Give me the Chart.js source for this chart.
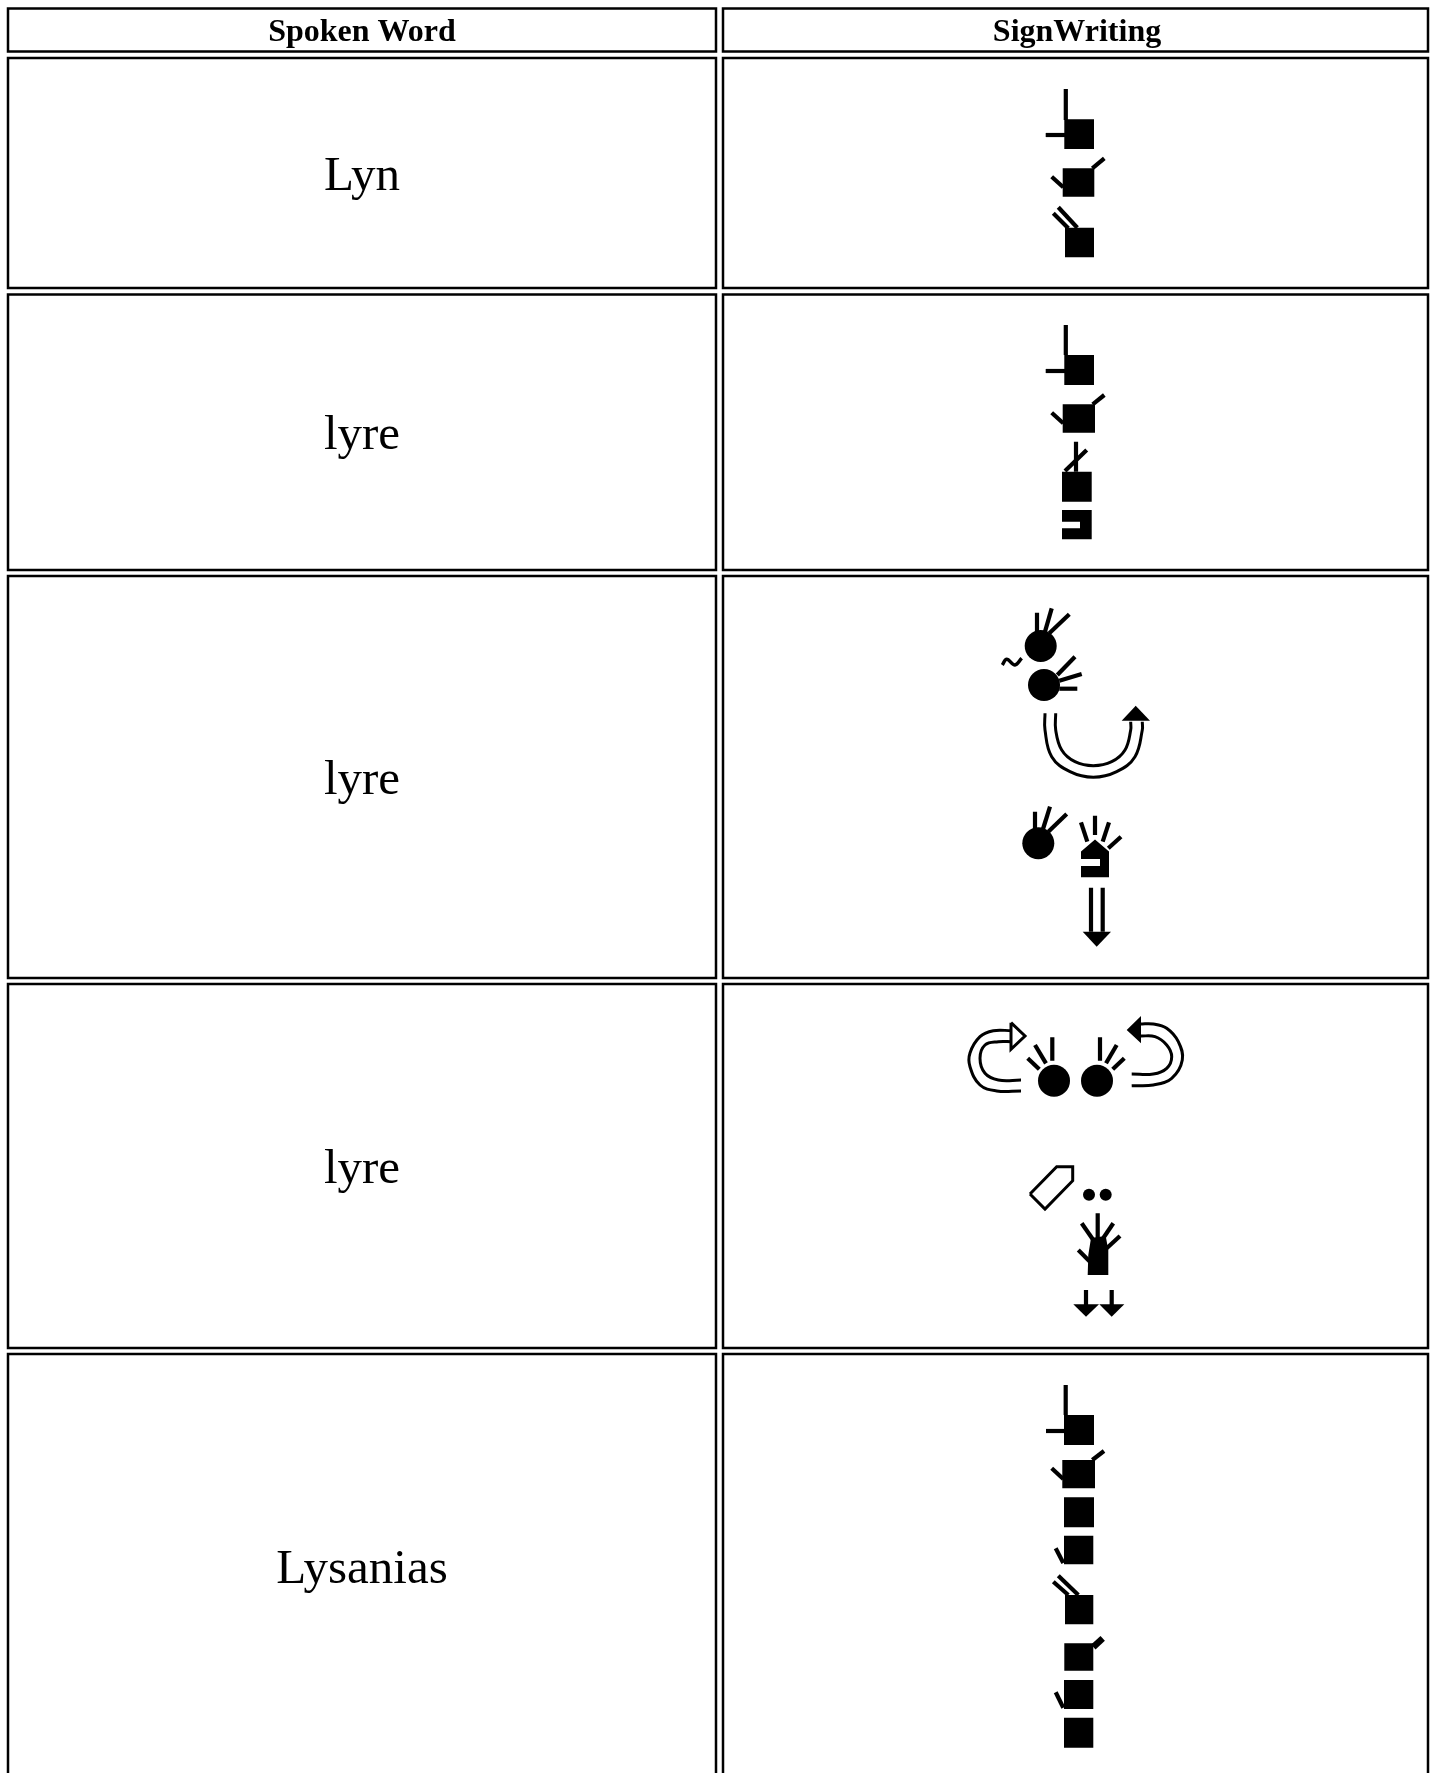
<!DOCTYPE html>
<html>
<head>
<meta charset="utf-8">
<title>Spoken Word / SignWriting</title>
<script src="https://cdn.jsdelivr.net/npm/chart.js@4/dist/chart.umd.min.js"></script>
<style>
    html, body { margin: 0; padding: 0; background: #fff; }
    canvas { display: block; }
</style>
</head>
<body>
<canvas id="chart" width="1435" height="1773"></canvas>
<script>
const headerLabels = ['Spoken Word', 'SignWriting'];
const headerCenters = [[362, 41], [1077, 41]];
const wordLabels = ['Lyn', 'lyre', 'lyre', 'lyre', 'Lysanias'];
const wordCenters = [[362, 190], [362, 449], [362, 794], [362, 1183], [362, 1583]];

const columnEdges = [[8, 716], [723, 1428]];
const rowEdges = [[8.5, 51.5], [58, 288], [294.5, 570], [576, 978], [984, 1348], [1354, 1777]];

// plain finger strokes
const fingerLines = [
    [[1065.8, 89], [1065.8, 120]], [[1045.7, 135], [1065, 135]],
    [[1092.3, 168.3], [1104.3, 158.3]], [[1051.7, 176.7], [1063.3, 187.3]],
    [[1053.3, 213.3], [1068.3, 228.3]], [[1058.3, 207.3], [1077.3, 227.7]],

    [[1065.8, 325], [1065.8, 355]], [[1045.7, 371], [1065, 371]],
    [[1092.7, 404.3], [1104.3, 395]], [[1051.7, 412.7], [1063.3, 423.3]],
    [[1076, 441.7], [1076, 471.7]], [[1086.7, 450], [1065, 471]],

    [[1037, 612.7], [1037, 631.7]], [[1051.7, 608.3], [1045, 631.7]], [[1069.3, 614.3], [1049.3, 633.3]],
    [[1075, 656.7], [1057.3, 675]], [[1081.7, 674], [1059.3, 680.7]], [[1077.3, 688.7], [1059.3, 688.7]],
    [[1035, 811.7], [1035, 830]], [[1050, 806.7], [1042.7, 830]], [[1066.7, 814], [1048.3, 831.7]],
    [[1081, 822.3], [1087.3, 841.7]], [[1095, 815.7], [1095, 835]],
    [[1109, 822.3], [1102.7, 841.7]], [[1121, 836.7], [1108.3, 848.3]],
    [[1091, 887.7], [1091, 931.7]], [[1102.7, 887.7], [1102.7, 931.7]],

    [[1052.3, 1037.3], [1052.3, 1060.7]], [[1035, 1045], [1046, 1063.3]], [[1027.7, 1058.3], [1039.3, 1069.3]],
    [[1100, 1037.3], [1100, 1060.7]], [[1116.7, 1045], [1106, 1063.3]], [[1124.3, 1058.3], [1112.7, 1069.3]],
    [[1097.7, 1213.3], [1097.7, 1238]], [[1081.7, 1223.3], [1093.3, 1240]], [[1113.3, 1223.3], [1103.3, 1238]],
    [[1120, 1236], [1106.7, 1248.3]], [[1078.3, 1250], [1090, 1261.7]],
    [[1086, 1290], [1086, 1305]], [[1111.7, 1290], [1111.7, 1305]],

    [[1065.7, 1385], [1065.7, 1415]], [[1046, 1431], [1065, 1431]],
    [[1092.3, 1460], [1104, 1451]], [[1051.7, 1468.3], [1063.3, 1479]],
    [[1055.7, 1548.3], [1063.3, 1563]],
    [[1053.3, 1581.7], [1068.3, 1595]], [[1058.3, 1575.7], [1078.3, 1595]],
    [[1055.7, 1692.3], [1063.3, 1707.7]]
];
const heavyLines = [[[1093.3, 1647], [1102.7, 1638.3]]];

// curved movement arrows, smoothed by the line tension
const movementCurves = [
    [[1045, 713.3], [1045, 730], [1051.7, 756.7], [1070, 771.7], [1093.3, 777.3], [1116.7, 771.7], [1135, 756.7], [1142.3, 730], [1142.3, 721.7]],
    [[1055.7, 713.3], [1055.7, 730], [1061.7, 750], [1075, 761.7], [1093.3, 765.7], [1111.7, 761.7], [1125, 750], [1130.7, 730], [1130.7, 721.7]],
    [[1021, 1091], [996.7, 1091], [980, 1085], [970, 1066.7], [970, 1053], [980, 1036.7], [993.3, 1030.7], [1011.7, 1030.7]],
    [[1021, 1080], [998.3, 1080], [985, 1073.3], [980, 1058.3], [985, 1045], [998.3, 1041.7], [1011.7, 1041.7]],
    [[1131.7, 1085.7], [1153.3, 1085], [1171.7, 1078.3], [1182.3, 1060], [1178.3, 1041.7], [1166.7, 1028.3], [1153.3, 1024], [1140, 1024]],
    [[1131.7, 1074], [1153.3, 1074], [1166.7, 1068.3], [1171.7, 1056.7], [1166.7, 1045], [1155, 1036.7], [1140, 1036]]
];
const tildeCurve = [[1002.3, 665], [1006.7, 659.3], [1015, 665], [1021.7, 658.3]];

// left, top, right, bottom of the square hands
const squareHands = [
    [1064.3, 119.3, 1094, 149], [1062.7, 168.3, 1094.3, 196.7], [1065, 227.7, 1094, 257.3],
    [1064.3, 355, 1094, 385], [1062.7, 404.3, 1095, 432.7], [1062, 471.7, 1091.7, 501.7],
    [1064, 1415, 1094, 1445], [1062.3, 1460, 1095, 1488.3], [1064, 1497.3, 1094, 1527.3],
    [1064, 1535.7, 1093.3, 1564.3], [1065, 1595, 1093.3, 1624.3], [1064.3, 1643.3, 1093.3, 1670.7],
    [1064, 1680, 1093.3, 1709], [1064, 1717.7, 1093.3, 1747.7]
];
const solidShapes = [
    [[1062, 510], [1091.7, 510], [1091.7, 539.3], [1062, 539.3], [1062, 528.3], [1080, 528.3], [1080, 521.7], [1062, 521.7]],
    [[1095, 839.5], [1109, 851.5], [1109, 877.3], [1081, 877.3], [1081, 866], [1100, 866], [1100, 859], [1081, 859], [1081, 851.5]],
    [[1091, 1238], [1105.7, 1236], [1108.3, 1250], [1108.3, 1275], [1087.7, 1275], [1088.3, 1255]],
    [[1121.7, 720.7], [1135.7, 705.7], [1150, 720.7]],
    [[1082.7, 931.7], [1111, 931.7], [1096.7, 946.7]],
    [[1126.7, 1030], [1141, 1016], [1141, 1043.3]],
    [[1073.3, 1304.3], [1099, 1304.3], [1086, 1316.7]],
    [[1099.3, 1304.3], [1124.3, 1304.3], [1111.7, 1316.7]]
];
const hollowShapes = [
    [[1011, 1022.7], [1025, 1036], [1011, 1049.3], [1011, 1022.7]],
    [[1030, 1194], [1056.7, 1166.7], [1072.7, 1166.7], [1072.7, 1180.7], [1045, 1209], [1030, 1194]]
];
const fistDots = [[1040.7, 646], [1044, 685], [1038.3, 843.3], [1054, 1080.7], [1097, 1080.7]];
const contactDots = [[1089, 1194.7], [1105.7, 1194.7]];

const toPoints = line => line.map(([x, y]) => ({ x, y }));

function strokeSet(line, borderWidth, extra) {
    return {
        data: toPoints(line),
        showLine: true,
        pointRadius: 0,
        borderColor: '#000',
        borderWidth,
        ...extra
    };
}

function fillSet(shape, backgroundColor, borderWidth) {
    return {
        data: toPoints(shape),
        showLine: true,
        pointRadius: 0,
        fill: 'shape',
        backgroundColor,
        borderColor: '#000',
        borderWidth
    };
}

function dotSet(dots, pointRadius) {
    return {
        data: toPoints(dots),
        showLine: false,
        pointRadius,
        pointBackgroundColor: '#000',
        pointBorderWidth: 0
    };
}

const cellOutlines = [];
rowEdges.forEach(([top, bottom]) => {
    columnEdges.forEach(([left, right]) => {
        cellOutlines.push([[left, top], [right, top], [right, bottom], [left, bottom], [left, top]]);
    });
});

const datasets = [
    ...cellOutlines.map(c => strokeSet(c, 2.5, { borderCapStyle: 'square' })),
    ...fingerLines.map(l => strokeSet(l, 4.2)),
    ...heavyLines.map(l => strokeSet(l, 6.5)),
    ...movementCurves.map(l => strokeSet(l, 3, { tension: 0.4 })),
    strokeSet(tildeCurve, 3.5, { tension: 0.4 }),
    ...squareHands.map(([l, t, r, b]) => fillSet([[l, t], [r, t], [r, b], [l, b]], '#000', 0)),
    ...solidShapes.map(s => fillSet(s, '#000', 0)),
    ...hollowShapes.map(s => fillSet(s, '#fff', 3)),
    dotSet(fistDots, 16),
    dotSet(contactDots, 6)
];

// header and word labels, placed through the scales
const tableText = {
    id: 'tableText',
    afterDatasetsDraw(chart) {
        const { ctx, scales: { x, y } } = chart;
        ctx.save();
        ctx.fillStyle = '#000';
        ctx.textAlign = 'center';
        ctx.textBaseline = 'alphabetic';
        ctx.font = 'bold 32px "Liberation Serif"';
        headerLabels.forEach((label, i) => {
            ctx.fillText(label, x.getPixelForValue(headerCenters[i][0]), y.getPixelForValue(headerCenters[i][1]));
        });
        ctx.font = '49px "Liberation Serif"';
        wordLabels.forEach((label, i) => {
            ctx.fillText(label, x.getPixelForValue(wordCenters[i][0]), y.getPixelForValue(wordCenters[i][1]));
        });
        ctx.restore();
    }
};

new Chart(document.getElementById('chart'), {
    type: 'scatter',
    data: { datasets },
    plugins: [tableText],
    options: {
        responsive: false,
        animation: false,
        devicePixelRatio: 1,
        layout: { padding: 0, autoPadding: false },
        plugins: {
            legend: { display: false },
            tooltip: { enabled: false },
            title: { display: false }
        },
        scales: {
            x: { type: 'linear', min: 0, max: 1435, display: false },
            y: { type: 'linear', min: 0, max: 1773, reverse: true, display: false }
        }
    }
});
</script>
</body>
</html>
